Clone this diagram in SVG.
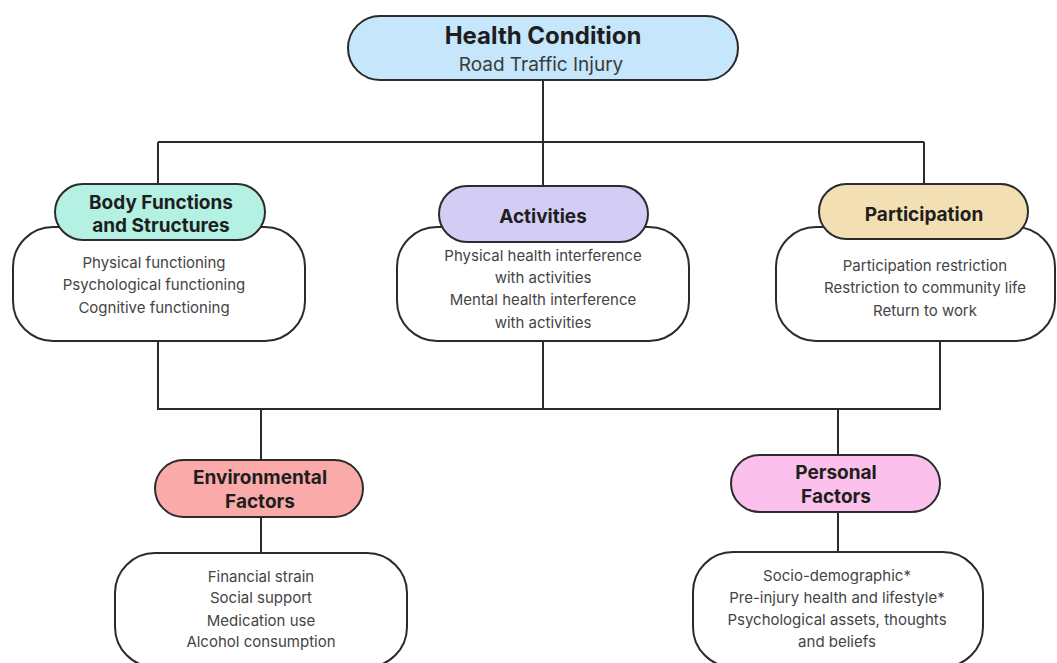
<svg xmlns="http://www.w3.org/2000/svg" width="1057" height="663" viewBox="0 0 1057 663">
<style>
.ln{stroke:#2b2b2b;stroke-width:2;fill:none}
.box{fill:#fff;stroke:#2b2b2b;stroke-width:2}
.pill{stroke:#2b2b2b;stroke-width:2}
.t{font-family:Inter,"Noto Sans",sans-serif;font-weight:700;font-size:19px;fill:#1e1e1e;text-anchor:middle}
.i{font-family:Inter,"Noto Sans",sans-serif;font-size:15px;fill:#444;text-anchor:middle}
</style>
<rect width="1057" height="663" fill="#fff"/>
<g id="connectors">
<path class="ln" d="M543 80V142M158 142H924M158 142V185M543 142V186M924 142V184"/>
<path class="ln" d="M158 341V409H940V341M543 341V409M261 409V460M838 409V455M261 517V553M838 512V552"/>
</g>
<g id="health-condition">
<rect class="pill" x="348" y="16" width="390" height="64" rx="32" fill="#c5e6fb"/>
<text class="t" x="543" y="44" style="font-size:24px">Health Condition</text>
<text class="i" x="541" y="71" style="font-size:19px;fill:#3a3a3a">Road Traffic Injury</text>
</g>
<g id="body-functions">
<rect class="box" x="13" y="227" width="292" height="114" rx="40"/>
<rect class="pill" x="55" y="184" width="210" height="56" rx="28" fill="#b4f1e2"/>
<text class="t" x="161" y="209">Body Functions</text>
<text class="t" x="161" y="232">and Structures</text>
<text class="i" x="154" y="268">Physical functioning</text>
<text class="i" x="154" y="290">Psychological functioning</text>
<text class="i" x="154" y="313">Cognitive functioning</text>
</g>
<g id="activities">
<rect class="box" x="397" y="227" width="292" height="114" rx="40"/>
<rect class="pill" x="439" y="186" width="209" height="56" rx="28" fill="#d3cdf6"/>
<text class="t" x="543" y="223">Activities</text>
<text class="i" x="543" y="261">Physical health interference</text>
<text class="i" x="543" y="283">with activities</text>
<text class="i" x="543" y="305">Mental health interference</text>
<text class="i" x="543" y="328">with activities</text>
</g>
<g id="participation">
<rect class="box" x="776" y="227" width="279" height="114" rx="40"/>
<rect class="pill" x="819" y="184" width="209" height="55" rx="27.5" fill="#f2dfb3"/>
<text class="t" x="924" y="221">Participation</text>
<text class="i" x="925" y="271">Participation restriction</text>
<text class="i" x="925" y="293">Restriction to community life</text>
<text class="i" x="925" y="316">Return to work</text>
</g>
<g id="environmental-factors">
<rect class="box" x="115" y="553" width="292" height="114" rx="40"/>
<rect class="pill" x="155" y="460" width="208" height="57" rx="28.5" fill="#f9aaa9"/>
<text class="t" x="260" y="484">Environmental</text>
<text class="t" x="260" y="508">Factors</text>
<text class="i" x="261" y="582">Financial strain</text>
<text class="i" x="261" y="603">Social support</text>
<text class="i" x="261" y="626">Medication use</text>
<text class="i" x="261" y="647">Alcohol consumption</text>
</g>
<g id="personal-factors">
<rect class="box" x="693" y="552" width="290" height="115" rx="40"/>
<rect class="pill" x="731" y="455" width="209" height="57" rx="28.5" fill="#fbc1ec"/>
<text class="t" x="836" y="479">Personal</text>
<text class="t" x="836" y="503">Factors</text>
<text class="i" x="837" y="581">Socio-demographic*</text>
<text class="i" x="837" y="603">Pre-injury health and lifestyle*</text>
<text class="i" x="837" y="625">Psychological assets, thoughts</text>
<text class="i" x="837" y="647">and beliefs</text>
</g>
</svg>
